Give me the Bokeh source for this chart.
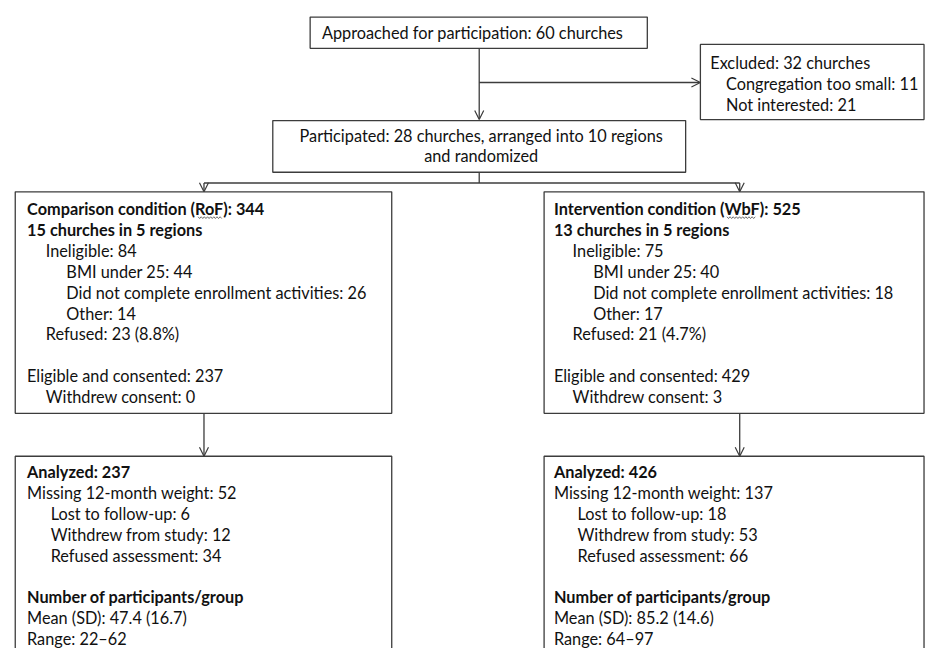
from bokeh.plotting import figure
from bokeh.models import Range1d, Arrow, OpenHead, ColumnDataSource
from bokeh.embed import file_html
from bokeh.resources import INLINE
from bokeh.core.properties import value

# ---------------- data ----------------
approached = 60
excluded_total = 32
excluded_reasons = ["Congregation too small", "Not interested"]
excluded_counts = [11, 21]
participated = 28
n_regions = 10

arms = ["Comparison condition (RoF)", "Intervention condition (WbF)"]
arm_n = [344, 525]
arm_churches = [15, 13]
arm_regions = [5, 5]
ineligible = [84, 75]
inel_reasons = ["BMI under 25", "Did not complete enrollment activities", "Other"]
inel_counts = [[44, 26, 14], [40, 18, 17]]
refused = [23, 21]
refused_pct = ["8.8", "4.7"]
consented = [237, 429]
withdrew_consent = [0, 3]
analyzed = [237, 426]
missing_weight = [52, 137]
missing_reasons = ["Lost to follow-up", "Withdrew from study", "Refused assessment"]
missing_counts = [[6, 12, 34], [18, 53, 66]]
group_mean = ["47.4", "85.2"]
group_sd = ["16.7", "14.6"]
group_range = [("22", "62"), ("64", "97")]

# ---------------- layout (reference pixel space 941 x 664) ----------------
W, H = 925, 648
FONT = "Lato"
FS = "16.3px"
LINE = "#3c3c3c"
TXT = "#111111"
STEP = 21.35

p = figure(width=W, height=H, x_range=Range1d(0, 941), y_range=Range1d(664, 0),
           output_backend="svg", toolbar_location=None, min_border=0,
           x_axis_location=None, y_axis_location=None)
p.grid.visible = False
p.outline_line_color = None

# boxes
top_box = (315, 658, 17, 49)
excl_box = (712, 939.5, 45, 122)
part_box = (277, 697, 123, 176)
mid_x = [(15, 398), (553, 939.5)]
mid_y = (196, 423)
bot_y = (467, 700)
lefts, rights, tops, bottoms = [], [], [], []
for b in [top_box, excl_box, part_box]:
    lefts.append(b[0]); rights.append(b[1]); tops.append(b[2]); bottoms.append(b[3])
for (x0, x1) in mid_x:
    for (y0, y1) in [mid_y, bot_y]:
        lefts.append(x0); rights.append(x1); tops.append(y0); bottoms.append(y1)
p.quad(left=lefts, right=rights, top=tops, bottom=bottoms, fill_color="white",
       line_color=LINE, line_width=1.3)

# connectors
cx = 487
arm_cx = [207, 752]
p.segment(x0=[cx, arm_cx[0]], y0=[176, 187], x1=[cx, arm_cx[1]], y1=[187, 187],
          line_color=LINE, line_width=1.3)
arrows = [(cx, 49, cx, 122), (cx, 84, 712, 84)]
for ax in arm_cx:
    arrows.append((ax, 187, ax, 196))
    arrows.append((ax, 423, ax, 467))
for (x0, y0, x1, y1) in arrows:
    p.add_layout(Arrow(end=OpenHead(size=9, line_color=LINE, line_width=1.2),
                       x_start=x0, y_start=y0, x_end=x1, y_end=y1,
                       line_color=LINE, line_width=1.3))

# spell-check squiggles under the abbreviations
for (sx0, sx1, sy) in [(201, 226, 222.5), (739, 768, 222.5)]:
    n = int((sx1 - sx0) / 1.6)
    zx = [sx0 + k * 1.6 for k in range(n + 1)]
    zy = [sy + (0.9 if k % 2 else -0.9) for k in range(n + 1)]
    p.line(zx, zy, line_color="#4a4a4a", line_width=0.8)

# text lines
xs, ys, ts, bold = [], [], [], []

def add(x, y, t, b=False):
    xs.append(x); ys.append(y); ts.append(t); bold.append(b)

add(327, 33, f"Approached for participation: {approached} churches")
add(722, 63.5, f"Excluded: {excluded_total} churches")
for k, (r, c) in enumerate(zip(excluded_reasons, excluded_counts)):
    add(738, 85 + k * STEP, f"{r}: {c}")

mid_base = [27, 563]
bot_base = [27, 563]
for i in range(2):
    b = mid_base[i]
    lines = [(0, f"{arms[i]}: {arm_n[i]}", True),
             (0, f"{arm_churches[i]} churches in {arm_regions[i]} regions", True),
             (19, f"Ineligible: {ineligible[i]}", False)]
    for r, c in zip(inel_reasons, inel_counts[i]):
        lines.append((40, f"{r}: {c}", False))
    lines.append((19, f"Refused: {refused[i]} ({refused_pct[i]}%)", False))
    lines.append(None)
    lines.append((0, f"Eligible and consented: {consented[i]}", False))
    lines.append((19, f"Withdrew consent: {withdrew_consent[i]}", False))
    for k, ln in enumerate(lines):
        if ln:
            add(b + ln[0], 213.5 + k * STEP, ln[1], ln[2])
    b = bot_base[i]
    lines = [(0, f"Analyzed: {analyzed[i]}", True),
             (0, f"Missing 12-month weight: {missing_weight[i]}", False)]
    for r, c in zip(missing_reasons, missing_counts[i]):
        lines.append((24, f"{r}: {c}", False))
    lines.append(None)
    lines.append((0, "Number of participants/group", True))
    lines.append((0, f"Mean (SD): {group_mean[i]} ({group_sd[i]})", False))
    lines.append((0, f"Range: {group_range[i][0]}\u2013{group_range[i][1]}", False))
    for k, ln in enumerate(lines):
        if ln:
            add(b + ln[0], 483 + k * STEP, ln[1], ln[2])

src_n = ColumnDataSource(dict(x=[x for x, b in zip(xs, bold) if not b],
                              y=[y for y, b in zip(ys, bold) if not b],
                              t=[t for t, b in zip(ts, bold) if not b]))
src_b = ColumnDataSource(dict(x=[x for x, b in zip(xs, bold) if b],
                              y=[y for y, b in zip(ys, bold) if b],
                              t=[t for t, b in zip(ts, bold) if b]))
for src, style in [(src_n, "normal"), (src_b, "bold")]:
    p.text(x="x", y="y", text="t", source=src, text_font=value(FONT),
           text_font_size=FS, text_font_style=style, text_color=TXT,
           text_baseline="middle", text_align="left")

# centered two-line text
p.text(x=[489, 489], y=[138, 159],
       text=[f"Participated: {participated} churches, arranged into {n_regions} regions",
             "and randomized"],
       text_font=value(FONT), text_font_size=FS, text_color=TXT,
       text_baseline="middle", text_align="center")

open("out.html", "w").write(file_html(p, INLINE))
